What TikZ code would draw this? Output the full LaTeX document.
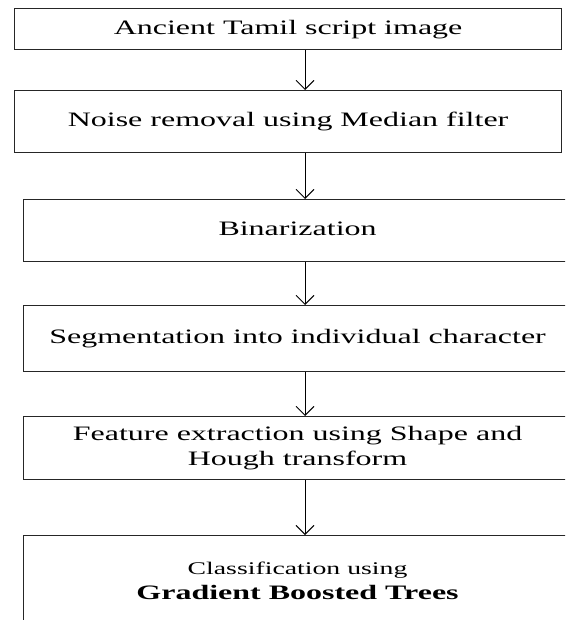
\documentclass[tikz,border=0pt]{standalone}
\usepackage{graphicx}
\usepackage{fontspec}
\setmainfont{Liberation Serif}
\usetikzlibrary{arrows.meta}

% horizontally widened text, as set in the flow chart
\newcommand{\widetext}[1]{\scalebox{1.56}[1]{\begin{tabular}{@{}c@{}}#1\end{tabular}}}

\begin{document}
\begin{tikzpicture}[x=1pt,y=-1pt,
  stage/.style={draw=black!85, line width=1.1pt, rectangle, anchor=north west,
    inner sep=0pt, font=\fontsize{20.5}{25}\selectfont},
  flow/.style={draw=black, line width=0.9pt, -{Straight Barb[length=9pt,width=18pt,line width=0.9pt]}}
]
\useasboundingbox[clip] (0,0) rectangle (565,620);

\node[stage, minimum width=547pt, minimum height=41pt] (b1) at (14,8)
  {\widetext{Ancient Tamil script image}};
\node[stage, minimum width=547pt, minimum height=62pt] (b2) at (14,90)
  {\widetext{Noise removal using Median filter}};
\node[stage, minimum width=548pt, minimum height=62pt] (b3) at (23,199)
  {\widetext{Binarization}};
\node[stage, minimum width=548pt, minimum height=66pt] (b4) at (23,305)
  {\widetext{Segmentation into individual character}};
\node[stage, minimum width=548pt, minimum height=63pt] (b5) at (23,416)
  {\widetext{Feature extraction using Shape and\\Hough transform}};
\node[stage, minimum width=548pt, minimum height=92pt] (b6) at (23,535)
  {\widetext{\fontsize{17.8}{26}\selectfont Classification using\\
   \fontsize{20.5}{26}\selectfont\bfseries Gradient Boosted Trees}};

% the arrows run down one common vertical line
\coordinate (axis) at (305,0);
\draw[flow] (b1.south -| axis) -- (b2.north -| axis);
\draw[flow] (b2.south -| axis) -- (b3.north -| axis);
\draw[flow] (b3.south -| axis) -- (b4.north -| axis);
\draw[flow] (b4.south -| axis) -- (b5.north -| axis);
\draw[flow] (b5.south -| axis) -- (b6.north -| axis);
\end{tikzpicture}
\end{document}
